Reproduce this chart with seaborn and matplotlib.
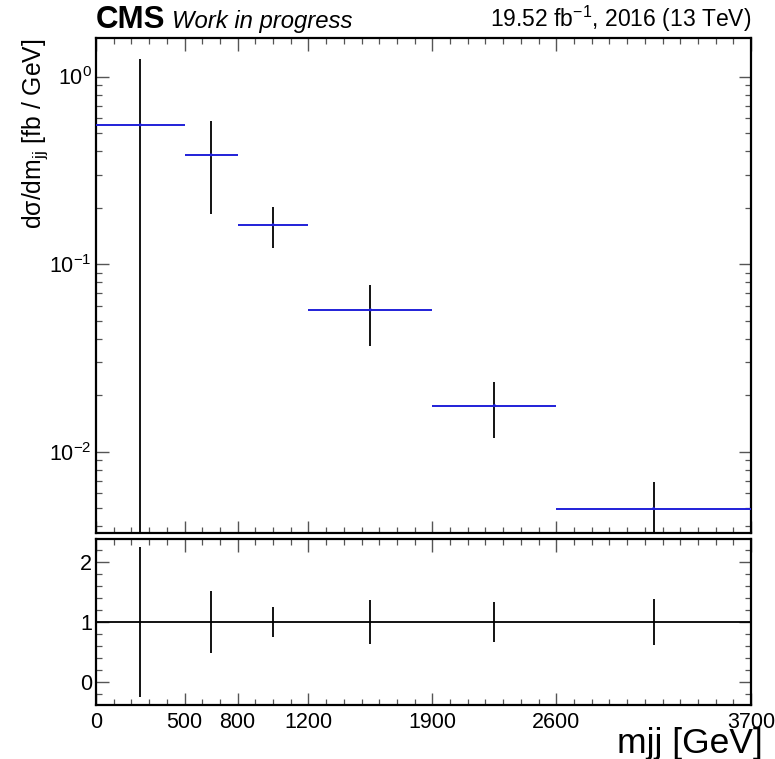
import numpy as np
import pandas as pd
import matplotlib
matplotlib.use("Agg")
import matplotlib.pyplot as plt
import seaborn as sns
from matplotlib.ticker import FixedLocator, MultipleLocator, LogLocator, NullFormatter, FixedFormatter

# ---- data ----
bin_edges = [0, 500, 800, 1200, 1900, 2600, 3700]
xsec = [0.552, 0.382, 0.162, 0.0570, 0.0176, 0.00497]
xsec_err = [0.69, 0.197, 0.040, 0.0205, 0.0058, 0.0019]
ratio = [1, 1, 1, 1, 1, 1]
ratio_err = [1.25, 0.52, 0.25, 0.36, 0.33, 0.38]
xticks = [0, 500, 800, 1200, 1900, 2600, 3700]
ratio_yticks = [0, 1, 2]

sns.set_theme(style="ticks")
plt.rcParams['font.family'] = ['Liberation Sans', 'DejaVu Sans']
plt.rcParams['text.color'] = 'black'
plt.rcParams['mathtext.fontset'] = 'custom'
plt.rcParams['mathtext.rm'] = 'Liberation Sans'
plt.rcParams['mathtext.it'] = 'Liberation Sans:italic'
plt.rcParams['mathtext.bf'] = 'Liberation Sans:bold'
plt.rcParams['mathtext.sf'] = 'Liberation Sans'

edges = np.array(bin_edges, dtype=float)
centers = (edges[:-1] + edges[1:]) / 2
half = (edges[1:] - edges[:-1]) / 2
df = pd.DataFrame({'mjj': centers, 'xsec': xsec, 'err': xsec_err,
                   'ratio': ratio, 'rerr': ratio_err, 'half': half})

BLUE = '#2020d8'
fig = plt.figure(figsize=(7.75, 7.59), dpi=100)
ax1 = fig.add_axes([0.1239, 0.2982, 0.8452, 0.6521])
ax2 = fig.add_axes([0.1239, 0.0711, 0.8452, 0.2183])

# top panel
ax1.set_yscale('log')
ax1.errorbar(df['mjj'], df['xsec'], yerr=df['err'], fmt='none',
             ecolor='black', elinewidth=1.3, capsize=0, zorder=3)
ax1.errorbar(df['mjj'], df['xsec'], xerr=df['half'], fmt='none',
             ecolor=BLUE, elinewidth=1.4, capsize=0, zorder=4)
sns.scatterplot(data=df, x='mjj', y='xsec', ax=ax1, color=BLUE, s=5,
                marker='o', edgecolor='none', zorder=5, legend=False)
ax1.set_xlim(0, 3700)
ax1.set_ylim(0.0037, 1.61)
ax1.yaxis.set_major_locator(LogLocator(base=10, numticks=10))
ax1.yaxis.set_minor_locator(LogLocator(base=10, subs=np.arange(2, 10), numticks=20))
ax1.yaxis.set_minor_formatter(NullFormatter())
ax1.set_xlabel('')
ax1.set_ylabel('')
ax1.tick_params(labelbottom=False)

# ratio panel
ax2.errorbar(df['mjj'], df['ratio'], yerr=df['rerr'], xerr=df['half'], fmt='none',
             ecolor='black', elinewidth=1.3, capsize=0, zorder=3)
ax2.set_xlim(0, 3700)
ax2.set_ylim(-0.38, 2.37)
ax2.yaxis.set_major_locator(FixedLocator(ratio_yticks))
ax2.yaxis.set_minor_locator(MultipleLocator(0.2))
ax2.set_xlabel('')
ax2.set_ylabel('')

for ax in (ax1, ax2):
    ax.xaxis.set_major_locator(FixedLocator(xticks))
    ax.xaxis.set_minor_locator(MultipleLocator(100))
    ax.tick_params(which='both', direction='in', top=True, right=True,
                   color='#555555', labelsize=15.5, labelcolor='black')
    ax.tick_params(which='major', length=9, width=1.0)
    ax.tick_params(which='minor', length=4.5, width=0.9)
    ax.tick_params(axis='x', which='major', pad=5)
    ax.tick_params(axis='y', which='major', pad=3)
    for sp in ax.spines.values():
        sp.set_linewidth(1.6)
        sp.set_color('black')

ax2.xaxis.set_major_formatter(FixedFormatter([str(t) for t in xticks]))

# texts
fig.text(0.1239, 0.9627, 'CMS', fontsize=22.5, fontweight='bold', ha='left', va='baseline')
fig.text(0.2215, 0.9627, 'Work in progress', fontsize=17.2, fontstyle='italic', ha='left', va='baseline')
fig.text(0.969, 0.9650, r'19.52 fb$^{-1}$, 2016 (13 TeV)', fontsize=16.5, ha='right', va='baseline')
fig.text(0.046, 0.950, r'dσ/dm$_{\mathrm{jj}}$ [fb / GeV]', fontsize=17.8, rotation=90,
         ha='center', va='top')
fig.text(0.9845, 0.0085, 'mjj [GeV]', fontsize=25.5, ha='right', va='baseline')

fig.savefig('out.png', dpi=100)
